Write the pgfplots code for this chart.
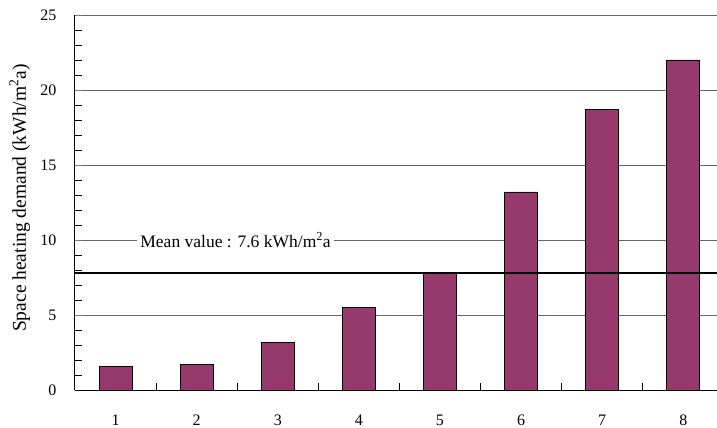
\documentclass[border=0pt]{standalone}
\usepackage{pgfplots}
\pgfplotsset{compat=1.18}
\usepackage{fontspec}
\setmainfont{Liberation Serif}
\definecolor{barc}{HTML}{963A6E}
\begin{document}
\fontsize{16}{18}\selectfont
\begin{tikzpicture}
\begin{axis}[
 name=a, at={(0,0)}, anchor=south west,
 scale only axis, width=642pt, height=375pt,
 xmin=0.5, xmax=8.416, ymin=0, ymax=25,
 axis x line*=bottom, axis y line*=left,
 axis line style={-, black, line width=1pt},
 xtick={1,...,8}, major x tick style={draw=none},
 minor xtick={1.5,2.5,...,7.5},
 ytick={0,5,...,25}, minor ytick={1,...,24},
 ymajorgrids, major grid style={black!60, line width=0.8pt},
 tick align=inside,
 minor tick length=7pt, major tick length=7pt,
 minor x tick style={black, line width=0.8pt},
 minor y tick style={black, line width=0.8pt},
 /pgf/number format/assume math mode=true,
 tick label style={font=\fontsize{16}{18}\selectfont},
 yticklabel style={xshift=-13pt},
 xticklabel style={yshift=-19pt},
 ylabel={Space heating demand (kWh/m\textsuperscript{2}a)},
 ylabel style={at={(axis description cs:-0.086,0.512)}, anchor=center, font=\fontsize{19.5}{22}\selectfont},
 clip=false,
]
\addplot[ybar, bar width=33pt, fill=barc, draw=black, line width=0.8pt]
 coordinates {(1,1.6) (2,1.7) (3,3.2) (4,5.5) (5,7.8) (6,13.2) (7,18.7) (8,22.0)};
\addplot[black, line width=1.8pt] coordinates {(0.5,7.82) (8.416,7.82)};
\node[fill=white, inner sep=3pt, font=\fontsize{17.5}{20}\selectfont] at (axis cs:2.48,10) {Mean value : 7.6 kWh/m\textsuperscript{2}a};
\end{axis}
\pgfresetboundingbox
\useasboundingbox (-75pt,-38pt) rectangle (642pt,390pt);
\end{tikzpicture}
\end{document}
